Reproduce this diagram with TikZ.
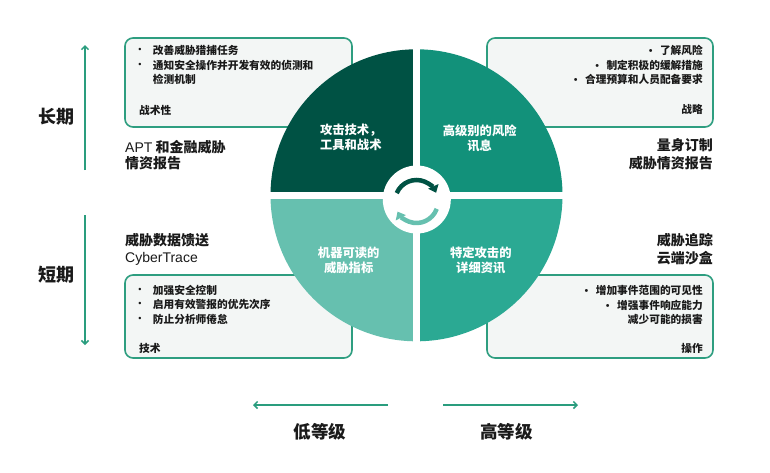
\documentclass[tikz,border=0pt]{standalone}
\usepackage{fontspec}
\setmainfont{Noto Sans CJK SC}
\newfontfamily\lat{Liberation Sans}
\usetikzlibrary{arrows.meta}
\definecolor{qtl}{HTML}{005244}
\definecolor{qtr}{HTML}{12917A}
\definecolor{qbl}{HTML}{66C0AF}
\definecolor{qbr}{HTML}{2BA993}
\definecolor{boxline}{HTML}{2E9E80}
\definecolor{boxfill}{HTML}{F3F6F5}
\definecolor{arrowgreen}{HTML}{2A9D7E}
\definecolor{ink}{HTML}{1A1A1A}
\tikzset{
  boxstyle/.style={draw=boxline, fill=boxfill, line width=1.6pt, rounded corners=8pt, inner sep=0pt},
  boxtext/.style={inner sep=0pt, text height=9.4pt, text depth=1.3pt, text=ink, font=\fontsize{10.7}{13}\selectfont\bfseries},
  labeltext/.style={inner sep=0pt, text height=12.3pt, text depth=1.7pt, text=ink, font=\fontsize{14}{17}\selectfont\bfseries},
  titletext/.style={inner sep=0pt, text height=15.6pt, text depth=2.2pt, text=ink, font=\fontsize{18}{21}\selectfont\bfseries},
  axistext/.style={inner sep=0pt, text height=15.2pt, text depth=2.1pt, text=ink, font=\fontsize{17.5}{20}\selectfont\bfseries},
  quadtext/.style={inner sep=0pt, align=center, text=white, font=\fontsize{12.3}{14.5}\selectfont\bfseries},
  garrow/.style={draw=arrowgreen, line width=1.5pt, -{Straight Barb[length=3.5pt,width=7pt]}},
  bul/.style={inner sep=0pt, text=ink, font=\lat\fontsize{9}{11}\selectfont},
}
\begin{document}
\begin{tikzpicture}[x=1pt,y=-1pt]
\useasboundingbox (0,0) rectangle (770,472);
\fill[white] (0,0) rectangle (770,472);

% boxes
\node[boxstyle, minimum width=227pt, minimum height=89pt] (boxTL) at (238.5,82.5) {};
\node[boxstyle, minimum width=226pt, minimum height=89pt] (boxTR) at (600,82.5) {};
\node[boxstyle, minimum width=227pt, minimum height=83pt] (boxBL) at (238.5,316.5) {};
\node[boxstyle, minimum width=226pt, minimum height=83pt] (boxBR) at (600,316.5) {};

% box TL text
\node[bul] (btl1) at (140,50.7) {•};
\node[boxtext, anchor=west] (ttl1) at (152.7,50.7) {改善威胁猎捕任务};
\node[bul] (btl2) at (140,65.2) {•};
\node[boxtext, anchor=west] (ttl2) at (152.7,65.2) {通知安全操作并开发有效的侦测和};
\node[boxtext, anchor=west] (ttl3) at (152.7,79.7) {检测机制};
\node[boxtext, anchor=west] (ttl4) at (139,110) {战术性};

% box TR text
\node[boxtext, anchor=east] (ttr1) at (703,50.7) {\lat\mdseries•\hspace{7.5pt}\rmfamily\bfseries 了解风险};
\node[boxtext, anchor=east] (ttr2) at (703,65.2) {\lat\mdseries•\hspace{7.5pt}\rmfamily\bfseries 制定积极的缓解措施};
\node[boxtext, anchor=east] (ttr3) at (703,79.7) {\lat\mdseries•\hspace{7.5pt}\rmfamily\bfseries 合理预算和人员配备要求};
\node[boxtext, anchor=east] (ttr4) at (703,109.5) {战略};

% box BL text
\node[bul] (bbl1) at (140,290) {•};
\node[boxtext, anchor=west] (tbl1) at (152.7,290) {加强安全控制};
\node[bul] (bbl2) at (140,304.5) {•};
\node[boxtext, anchor=west] (tbl2) at (152.7,304.5) {启用有效警报的优先次序};
\node[bul] (bbl3) at (140,319) {•};
\node[boxtext, anchor=west] (tbl3) at (152.7,319) {防止分析师倦怠};
\node[boxtext, anchor=west] (tbl4) at (139,348) {技术};

% box BR text
\node[boxtext, anchor=east] (tbr1) at (703,290.5) {\lat\mdseries•\hspace{7.5pt}\rmfamily\bfseries 增加事件范围的可见性};
\node[boxtext, anchor=east] (tbr2) at (703,305) {\lat\mdseries•\hspace{7.5pt}\rmfamily\bfseries 增强事件响应能力};
\node[boxtext, anchor=east] (tbr3) at (703,319.5) {减少可能的损害};
\node[boxtext, anchor=east] (tbr4) at (703,348) {操作};

% side labels
\node[labeltext, anchor=west] (ltl1) at (125,146.7) {{\lat\mdseries APT} 和金融威胁};
\node[labeltext, anchor=west] (ltl2) at (125,163.2) {情资报告};
\node[labeltext, anchor=east] (ltr1) at (713,145.5) {量身订制};
\node[labeltext, anchor=east] (ltr2) at (713,163.2) {威胁情资报告};
\node[labeltext, anchor=west] (lbl1) at (125,240) {威胁数据馈送};
\node[labeltext, anchor=west] (lbl2) at (125,256.7) {\lat\mdseries CyberTrace};
\node[labeltext, anchor=east] (lbr1) at (713,240.5) {威胁追踪};
\node[labeltext, anchor=east] (lbr2) at (713,258) {云端沙盒};

% circle
\coordinate (c) at (416.5,195.3);
\begin{scope}
  \clip (c) circle (146);
  \fill[qtl] (c) rectangle ++(-150,-150);
  \fill[qtr] (c) rectangle ++(150,-150);
  \fill[qbl] (c) rectangle ++(-150,150);
  \fill[qbr] (c) rectangle ++(150,150);
\end{scope}
\fill[white] (413.2,45) rectangle (419.8,346);
\fill[white] (265,191.5) rectangle (568,199.1);
\coordinate (ic) at (416.8,199.5);
\fill[white] (ic) circle (34);

% cycle arrows
\coordinate (ac) at (416.5,201.5);
\draw[qtl, line width=4.5pt, -{Triangle[length=7pt,width=11pt]}] (ac) ++(-157:21.5) arc[start angle=-157, end angle=-24, radius=21.5];
\draw[qbl, line width=4.5pt, -{Triangle[length=7pt,width=11pt]}] (ac) ++(20:21.5) arc[start angle=20, end angle=152, radius=21.5];

% quadrant texts
\node[quadtext] (qa) at (350.8,137.3) {攻击技术，\\工具和战术};
\node[quadtext] (qb) at (479.7,138.5) {高级别的风险\\讯息};
\node[quadtext] (qc) at (348.7,260.5) {机器可读的\\威胁指标};
\node[quadtext] (qd) at (480.8,260.5) {特定攻击的\\详细资讯};

% vertical arrows and titles
\coordinate (va1) at (85,170);
\coordinate (va2) at (85,45);
\coordinate (vb1) at (85,215);
\coordinate (vb2) at (85,345);
\draw[garrow] (va1) -- (va2);
\draw[garrow] (vb1) -- (vb2);
\node[titletext] (long) at (56.7,116.7) {长期};
\node[titletext] (short) at (56.7,275) {短期};

% horizontal arrows and labels
\coordinate (ha1) at (388,405);
\coordinate (ha2) at (253,405);
\coordinate (hb1) at (443,405);
\coordinate (hb2) at (578,405);
\draw[garrow] (ha1) -- (ha2);
\draw[garrow] (hb1) -- (hb2);
\node[axistext] (low) at (320,431.7) {低等级};
\node[axistext] (high) at (506.7,432) {高等级};
\end{tikzpicture}
\end{document}
